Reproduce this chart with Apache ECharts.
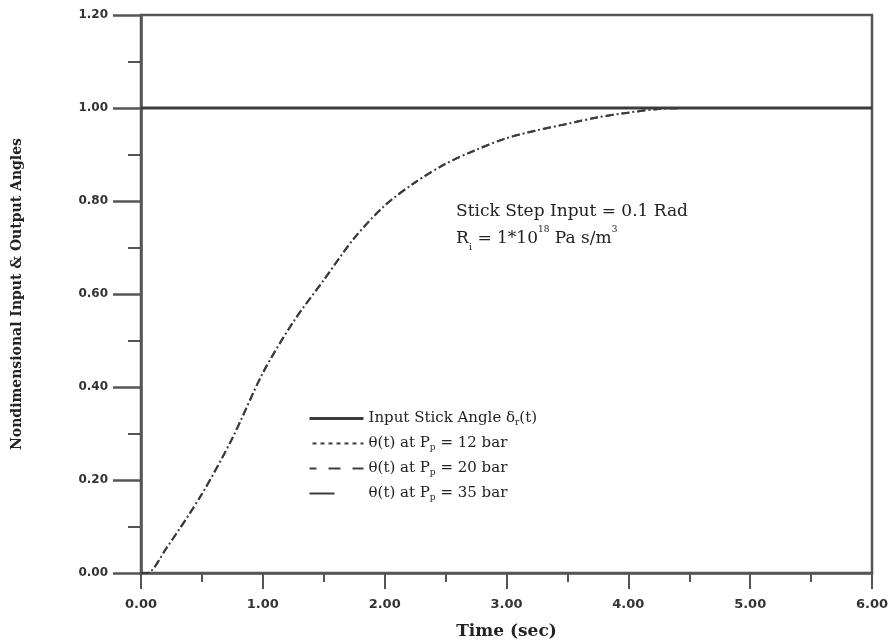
<!doctype html>
<html lang="en">
<head>
    <meta charset="UTF-8">
    <title>Stick step response</title>
    <style>
        html, body { margin: 0; padding: 0; background: #fff; }
        #main { width: 893px; height: 643px; }
    </style>
</head>
<body>
<div id="main"></div>
<script type="text/javascript" src="https://cdn.jsdelivr.net/npm/echarts@6/dist/echarts.min.js"></script>
<script type="text/javascript">
    // values
    let time = [0, 0.05, 0.2, 0.5, 0.75, 1.0, 1.25, 1.5, 1.75, 2.0, 2.25, 2.5, 2.75, 3.0, 3.25, 3.5, 3.75, 4.0, 4.25, 4.5, 5.0, 5.5, 6.0];
    let theta12 = [0, 0, 0.05, 0.17, 0.29, 0.43, 0.54, 0.63, 0.72, 0.79, 0.84, 0.88, 0.91, 0.935, 0.952, 0.966, 0.98, 0.99, 0.998, 1.0, 1.0, 1.0, 1.0];
    let theta20 = [0, 0, 0.05, 0.17, 0.29, 0.43, 0.54, 0.63, 0.72, 0.79, 0.84, 0.88, 0.91, 0.935, 0.952, 0.966, 0.98, 0.99, 0.998, 1.0, 1.0, 1.0, 1.0];
    let theta35 = [0, 0, 0.05, 0.17, 0.29, 0.43, 0.54, 0.63, 0.72, 0.79, 0.84, 0.88, 0.91, 0.935, 0.952, 0.966, 0.98, 0.99, 0.998, 1.0, 1.0, 1.0, 1.0];
    let inputTime = [0, 6];
    let inputAngle = [1, 1];

    let legendText = {
        input: 'Input Stick Angle δ{sub|r}(t)',
        p12: 'θ(t) at P{sub|p} = 12 bar',
        p20: 'θ(t) at P{sub|p} = 20 bar',
        p35: 'θ(t) at P{sub|p} = 35 bar'
    };

    function pairs(xs, ys) {
        return xs.map(function (x, i) { return [x, ys[i]]; });
    }

    let ink = '#3c3c3c';
    let axisInk = '#555';
    let serif = '"DejaVu Serif", "Liberation Serif", serif';

    let myChart = echarts.init(document.getElementById('main'));
    let option = {
        backgroundColor: '#fff',
        animation: false,
        grid: {
            left: 141, right: 21, top: 15, bottom: 70,
            outerBoundsMode: 'none',
            show: true, borderColor: axisInk, borderWidth: 2.5
        },
        legend: {
            orient: 'vertical',
            left: 303, top: 406,
            itemWidth: 54, itemHeight: 14, itemGap: 9,
            data: [
                { name: 'input', lineStyle: { width: 3 } },
                { name: 'p12', lineStyle: { type: [4, 4] } },
                { name: 'p20', lineStyle: { type: [12, 12] } },
                { name: 'p35', lineStyle: { type: [30, 40] } }
            ],
            itemStyle: { opacity: 0 },
            formatter: function (name) { return legendText[name]; },
            textStyle: {
                fontFamily: serif, fontSize: 15, color: '#222',
                rich: {
                    sub: { fontFamily: serif, fontSize: 9, color: '#222', verticalAlign: 'bottom', padding: [8, 0, 0, 0] }
                }
            }
        },
        xAxis: {
            type: 'value', min: 0, max: 6, interval: 1,
            name: 'Time (sec)', nameLocation: 'middle', nameGap: 50,
            nameTextStyle: { fontFamily: serif, fontWeight: 'bold', fontSize: 17, color: '#222' },
            axisLine: { lineStyle: { color: axisInk, width: 2.5 } },
            axisTick: { length: 16, lineStyle: { color: axisInk, width: 2 } },
            minorTick: { show: true, splitNumber: 2, length: 9, lineStyle: { color: axisInk, width: 2 } },
            splitLine: { show: false },
            axisLabel: {
                margin: 25, fontFamily: '"DejaVu Sans", sans-serif', fontWeight: 'bold', fontSize: 13, color: '#333',
                formatter: function (v) { return v.toFixed(2); }
            }
        },
        yAxis: {
            type: 'value', min: 0, max: 1.2, interval: 0.2,
            name: 'Nondimensional Input & Output Angles', nameLocation: 'middle', nameGap: 117, nameRotate: 90,
            nameTextStyle: { fontFamily: serif, fontWeight: 'bold', fontSize: 14, color: '#222' },
            axisLine: { lineStyle: { color: axisInk, width: 2.5 } },
            axisTick: { length: 28, lineStyle: { color: axisInk, width: 2.5 } },
            minorTick: { show: true, splitNumber: 2, length: 13, lineStyle: { color: axisInk, width: 2 } },
            splitLine: { show: false },
            axisLabel: {
                margin: 33, fontFamily: '"DejaVu Sans", sans-serif', fontWeight: 'bold', fontSize: 12, color: '#333',
                formatter: function (v) { return v.toFixed(2); }
            }
        },
        series: [
            {
                name: 'input', type: 'line', symbol: 'none', z: 3,
                data: pairs(inputTime, inputAngle),
                lineStyle: { color: ink, width: 3, type: 'solid' },
                itemStyle: { color: ink }
            },
            {
                name: 'p12', type: 'line', symbol: 'none', smooth: 0.3,
                data: pairs(time, theta12),
                lineStyle: { color: ink, width: 2, type: [2, 14], dashOffset: 5 },
                itemStyle: { color: ink }
            },
            {
                name: 'p20', type: 'line', symbol: 'none', smooth: 0.3,
                data: pairs(time, theta20),
                lineStyle: { color: ink, width: 2, type: [8, 8] },
                itemStyle: { color: ink }
            },
            {
                name: 'p35', type: 'line', symbol: 'none', smooth: 0.3,
                data: pairs(time, theta35),
                lineStyle: { color: ink, width: 2, type: [8, 8] },
                itemStyle: { color: ink }
            }
        ],
        graphic: [
            {
                type: 'text', left: 456, top: 198,
                style: {
                    text: 'Stick Step Input = 0.1 Rad\nR{sub|i} = 1*10{sup|18} Pa s/m{sup|3}',
                    font: '17px ' + serif, fill: '#222', lineHeight: 27,
                    rich: {
                        sub: { fontFamily: serif, fontSize: 10, fill: '#222', verticalAlign: 'bottom', padding: [8, 0, 0, 0] },
                        sup: { fontFamily: serif, fontSize: 9, fill: '#222', verticalAlign: 'top', padding: [0, 0, 8, 0] }
                    }
                }
            }
        ]
    };
    myChart.setOption(option, true);
</script>
</body>
</html>
